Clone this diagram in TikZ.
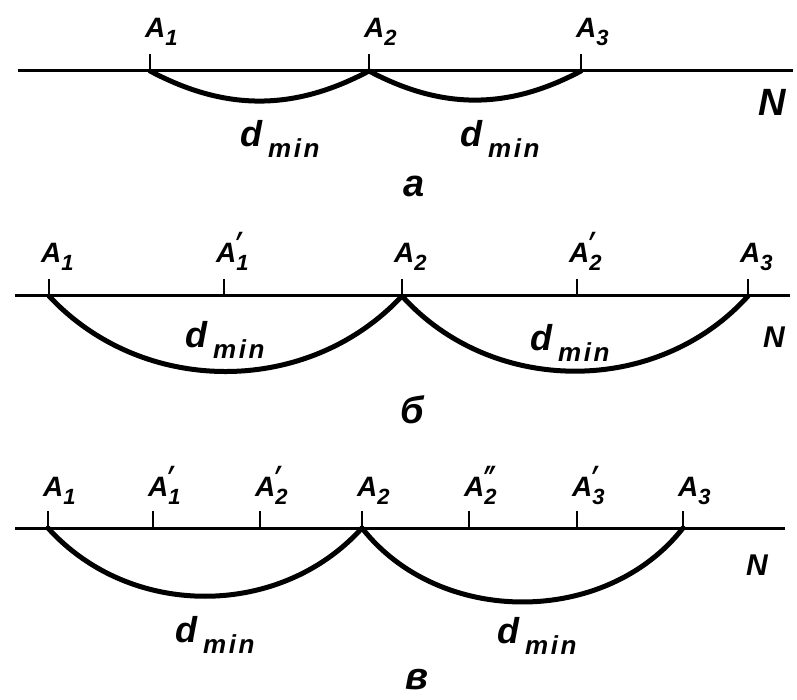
\documentclass[tikz,border=0pt]{standalone}
\usepackage{fontspec}
\newfontfamily\lblfont{Liberation Sans}[Ligatures=TeXOff]
\newfontfamily\lblwide{Liberation Sans}[Ligatures=TeXOff, LetterSpace=10]
\newfontfamily\primefont{DejaVu Sans}
\usetikzlibrary{calc}

% subscript with an optional prime stacked over it
\newcommand{\idx}[2]{%
  \makebox[0pt][l]{\raisebox{-3pt}{\scalebox{1.1}[1.9]{\primefont\bfseries\fontsize{24}{24}\selectfont #2}}}%
  \raisebox{-8pt}{\fontsize{22}{22}\selectfont #1}}
\newcommand{\dmin}{d\,\raisebox{-11pt}{\lblwide\bfseries\itshape\fontsize{26}{26}\selectfont min}}

\begin{document}
\begin{tikzpicture}[x=1pt, y=1pt,
  axisline/.style={line width=3pt},
  tickmark/.style={line width=2pt},
  span/.style={line width=5pt, line cap=round},
  ptlabel/.style={font=\lblfont\bfseries\itshape\fontsize{28}{28}\selectfont, anchor=base west, inner sep=0pt},
  distlabel/.style={font=\lblfont\bfseries\itshape\fontsize{36}{36}\selectfont, anchor=base west, inner sep=0pt},
  nlabel/.style={font=\lblfont\bfseries\itshape\fontsize{30}{30}\selectfont, inner sep=0pt},
  caption/.style={font=\lblfont\bfseries\itshape\fontsize{38}{38}\selectfont, anchor=base west, inner sep=0pt}]
  \useasboundingbox (0,0) rectangle (797,-700);

  % a
  \coordinate (a0) at (18,-71);
  \coordinate (aN) at (793,-71);
  \draw[axisline] (a0) -- (aN);
  \foreach \nm/\x/\s/\p in {a1/150/1/{}, a2/369/2/{}, a3/581/3/{}} {
    \coordinate (\nm) at (\x,-71);
    \draw[tickmark] (\nm) -- ++(0,17);
    \node[ptlabel] (\nm-lab) at ($(\nm)+(-5,33)$) {A\idx{\s}{\p}};
  }
  \draw[span] (a1) to[out=-28, in=208] (a2);
  \draw[span] (a2) to[out=-28, in=208] (a3);
  \node[distlabel] (a-d1) at (240,-147) {\dmin};
  \node[distlabel] (a-d2) at (460,-147) {\dmin};
  \node[nlabel, font=\lblfont\bfseries\itshape\fontsize{38}{38}\selectfont] (a-N) at (772,-102) {N};
  \node[caption] (a-cap) at (403,-197) {а};

  % b
  \coordinate (b0) at (15,-296);
  \coordinate (bN) at (790,-296);
  \draw[axisline] (b0) -- (bN);
  \foreach \nm/\x/\s/\p in {b1/49/1/{}, b2/224/1/{′}, b3/402/2/{}, b4/577/2/{′}, b5/748/3/{}} {
    \coordinate (\nm) at (\x,-296);
    \draw[tickmark] (\nm) -- ++(0,17);
    \node[ptlabel] (\nm-lab) at ($(\nm)+(-8,33)$) {A\idx{\s}{\p}};
  }
  \draw[span] (b1) to[out=-47, in=227] (b3);
  \draw[span] (b3) to[out=-48, in=228] (b5);
  \node[distlabel] (b-d1) at (185,-347) {\dmin};
  \node[distlabel] (b-d2) at (530,-350) {\dmin};
  \node[nlabel] (b-N) at (774,-337) {N};
  \node[caption] (b-cap) at (400,-423) {б};

  % c
  \coordinate (c0) at (15,-528);
  \coordinate (cN) at (785,-528);
  \draw[axisline] (c0) -- (cN);
  \foreach \nm/\x/\s/\p in {c1/48/1/{}, c2/153/1/{′}, c3/260/2/{′}, c4/362/2/{}, c5/469/2/{″}, c6/577/3/{′}, c7/683/3/{}} {
    \coordinate (\nm) at (\x,-528);
    \draw[tickmark] (\nm) -- ++(0,17);
    \node[ptlabel] (\nm-lab) at ($(\nm)+(-5,32)$) {A\idx{\s}{\p}};
  }
  \draw[span] (c1) to[out=-48, in=228] (c4);
  \draw[span] (c4) to[out=-52, in=232] (c7);
  \node[distlabel] (c-d1) at (175,-642) {\dmin};
  \node[distlabel] (c-d2) at (497,-643) {\dmin};
  \node[nlabel] (c-N) at (757,-565) {N};
  \node[caption] (c-cap) at (405,-689) {в};
\end{tikzpicture}
\end{document}
